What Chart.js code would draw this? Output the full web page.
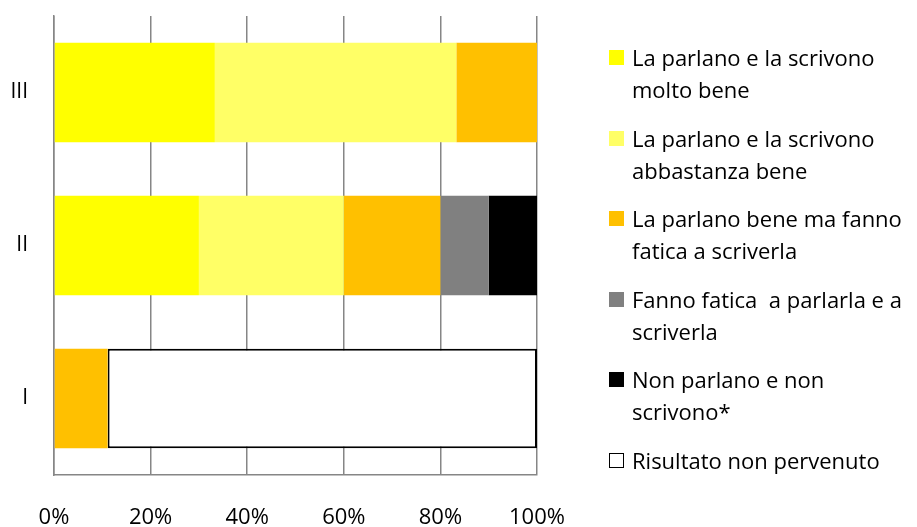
<!DOCTYPE html>
<html>
<head>
<meta charset="utf-8">
<script src="https://cdn.jsdelivr.net/npm/chart.js@4.4.1/dist/chart.umd.min.js"></script>
<style>
  html, body { margin: 0; padding: 0; background: #fff; }
  #wrap { position: relative; width: 917px; height: 527px; }
  #chart { position: absolute; left: 0; top: 0; }
  #legend { position: absolute; left: 609px; top: 41px; font-family: "Open Sans", sans-serif; font-size: 22px; color: #000; }
  .item { position: relative; padding-left: 23px; line-height: 32px; margin-bottom: 16.6px; white-space: pre; }
  .box { position: absolute; left: 0; top: 9px; width: 15px; height: 15px; box-sizing: border-box; }
</style>
</head>
<body>
<div id="wrap">
  <canvas id="chart" width="917" height="527"></canvas>
  <div id="legend"></div>
</div>
<script>
// categorie (dall'alto verso il basso)
const classi = ['III', 'II', 'I'];

// valori in percentuale
const moltoBene = [33.3, 30, 0];
const abbastanzaBene = [50, 30, 0];
const faticaScrivere = [16.7, 20, 11.1];
const faticaEntrambe = [0, 10, 0];
const nonParlano = [0, 10, 0];
const nonPervenuto = [0, 0, 88.9];

const xTicks = [0, 20, 40, 60, 80, 100];

const legendLabels = [
  ['La parlano e la scrivono', 'molto bene'],
  ['La parlano e la scrivono', 'abbastanza bene'],
  ['La parlano bene ma fanno', 'fatica a scriverla'],
  ['Fanno fatica  a parlarla e a', 'scriverla'],
  ['Non parlano e non', 'scrivono*'],
  ['Risultato non pervenuto']
];

const colori = ['#FFFF00', '#FFFF66', '#FFC000', '#808080', '#000000', '#FFFFFF'];
const serie = [moltoBene, abbastanzaBene, faticaScrivere, faticaEntrambe, nonParlano, nonPervenuto];

const datasets = serie.map(function(vals, i) {
  return {
    label: legendLabels[i].join(' '),
    data: vals,
    backgroundColor: colori[i],
    borderColor: '#000000',
    borderWidth: i === 5 ? 2 : 0,
    borderSkipped: false,
    barPercentage: 0.65,
    categoryPercentage: 1.0
  };
});

const ctx = document.getElementById('chart').getContext('2d');
const chart = new Chart(ctx, {
  type: 'bar',
  data: { labels: classi, datasets: datasets },
  options: {
    indexAxis: 'y',
    responsive: false,
    animation: false,
    layout: { padding: { top: 16, right: 380, left: 0, bottom: 0 } },
    plugins: { legend: { display: false }, tooltip: { enabled: false } },
    scales: {
      x: {
        stacked: true,
        min: 0,
        max: 100,
        afterBuildTicks: function(scale) {
          scale.ticks = xTicks.map(function(v) { return { value: v }; });
        },
        afterFit: function(scale) { scale.height = 52; },
        grid: { color: '#868686', lineWidth: 1.5, drawTicks: false },
        border: { color: '#868686', width: 1.5 },
        ticks: {
          padding: 30,
          color: '#000',
          font: { family: 'Open Sans', size: 22 },
          callback: function(v) { return v + '%'; }
        }
      },
      y: {
        stacked: true,
        afterFit: function(scale) {
          scale.width = 54;
          scale.paddingTop = 0;
          scale.paddingBottom = 0;
        },
        grid: { display: false, drawTicks: false },
        border: { color: '#868686', width: 1.5 },
        ticks: {
          padding: 26,
          color: '#000',
          font: { family: 'Open Sans', size: 21 }
        }
      }
    }
  }
});

// legenda HTML
const legend = document.getElementById('legend');
legendLabels.forEach(function(lines, i) {
  const item = document.createElement('div');
  item.className = 'item';
  const box = document.createElement('span');
  box.className = 'box';
  box.style.background = colori[i];
  if (i === 5) box.style.border = '1.5px solid #000';
  item.append(box);
  item.append(document.createTextNode(lines.join('\n')));
  legend.append(item);
});
</script>
</body>
</html>
